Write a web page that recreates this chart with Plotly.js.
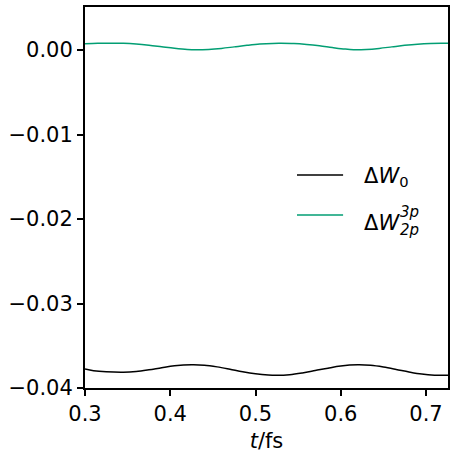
<!DOCTYPE html>
<html>
<head>
<meta charset="utf-8">
<script src="https://cdn.plot.ly/plotly-3.0.1.min.js"></script>
<style>html,body{margin:0;padding:0;background:#fff;}</style>
</head>
<body>
<div id="chart" style="width:456px;height:460px;"></div>
<script>
// time axis (fs)
const tGreen = [0.300,0.315,0.330,0.345,0.360,0.375,0.390,0.405,0.420,0.430,0.445,0.460,0.475,0.490,0.505,0.520,0.530,0.545,0.560,0.575,0.590,0.605,0.615,0.630,0.645,0.660,0.675,0.690,0.705,0.720,0.7258];
const dW2p3p = [0.00075,0.00080,0.00082,0.00080,0.00072,0.00058,0.00040,0.00022,0.00008,0.00004,0.00008,0.00020,0.00038,0.00056,0.00071,0.00079,0.00080,0.00077,0.00066,0.00050,0.00030,0.00012,0.00005,0.00008,0.00020,0.00038,0.00056,0.00070,0.00078,0.00080,0.00080];

const tBlack = [0.300,0.310,0.325,0.345,0.360,0.375,0.390,0.405,0.425,0.440,0.455,0.470,0.485,0.500,0.515,0.525,0.540,0.555,0.570,0.585,0.600,0.620,0.635,0.650,0.665,0.680,0.695,0.710,0.7258];
const dW0 = [-0.03775,-0.03795,-0.03808,-0.03813,-0.03805,-0.03785,-0.03760,-0.03738,-0.03725,-0.03730,-0.03750,-0.03778,-0.03808,-0.03832,-0.03847,-0.03850,-0.03843,-0.03822,-0.03794,-0.03765,-0.03740,-0.03726,-0.03732,-0.03752,-0.03780,-0.03810,-0.03835,-0.03848,-0.03850];

const xTicks = [0.3,0.4,0.5,0.6,0.7];
const yTicks = [0.00,-0.01,-0.02,-0.03,-0.04];
const yTickText = ['0.00','\u22120.01','\u22120.02','\u22120.03','\u22120.04'];

const black = '#000000';
const green = '#029e73';
const FONT = 'DejaVu Sans, sans-serif';

const traces = [
  {x: tBlack, y: dW0, mode: 'lines', line: {color: black, width: 1.5, shape: 'spline'}, showlegend: false},
  {x: tGreen, y: dW2p3p, mode: 'lines', line: {color: green, width: 1.5, shape: 'spline'}, showlegend: false}
];

const layout = {
  width: 456, height: 460,
  margin: {l: 85, r: 8, t: 7, b: 72},
  paper_bgcolor: '#fff', plot_bgcolor: '#fff',
  font: {family: FONT, size: 21, color: '#000'},
  showlegend: false,
  xaxis: {
    range: [0.3, 0.7258], tickvals: xTicks, ticktext: xTicks.map(v => v.toFixed(1)),
    ticks: 'outside', ticklen: 6, tickwidth: 2, tickcolor: '#000',
    showline: true, linecolor: '#000', linewidth: 2, mirror: true,
    showgrid: false, zeroline: false,
    title: {text: '<i>t</i>/fs', font: {family: FONT, size: 21}, standoff: 8}
  },
  yaxis: {
    range: [-0.04, 0.0051], tickvals: yTicks, ticktext: yTickText,
    ticks: 'outside', ticklen: 6, tickwidth: 2, tickcolor: '#000',
    showline: true, linecolor: '#000', linewidth: 2, mirror: true,
    showgrid: false, zeroline: false
  },
  shapes: [
    {type: 'line', xref: 'paper', yref: 'paper', x0: 0.584, x1: 0.711, y0: 0.559, y1: 0.559, line: {color: black, width: 1.5}},
    {type: 'line', xref: 'paper', yref: 'paper', x0: 0.584, x1: 0.711, y0: 0.454, y1: 0.454, line: {color: green, width: 1.5}}
  ],
  annotations: [
    {xref: 'paper', yref: 'paper', x: 0.763, y: 0.555, xanchor: 'left', yanchor: 'middle', showarrow: false,
     text: '\u0394<i>W</i><sub>0</sub>', font: {family: FONT, size: 21, color: '#000'}},
    {xref: 'paper', yref: 'paper', x: 0.763, y: 0.432, xanchor: 'left', yanchor: 'middle', showarrow: false,
     text: '\u0394<i>W</i>', font: {family: FONT, size: 21, color: '#000'}},
    {xref: 'paper', yref: 'paper', x: 0.862, y: 0.462, xanchor: 'left', yanchor: 'middle', showarrow: false,
     text: '<i>3p</i>', font: {family: FONT, size: 15, color: '#000'}},
    {xref: 'paper', yref: 'paper', x: 0.862, y: 0.415, xanchor: 'left', yanchor: 'middle', showarrow: false,
     text: '<i>2p</i>', font: {family: FONT, size: 15, color: '#000'}}
  ]
};

Plotly.newPlot('chart', traces, layout, {displayModeBar: false, staticPlot: true});
</script>
</body>
</html>
